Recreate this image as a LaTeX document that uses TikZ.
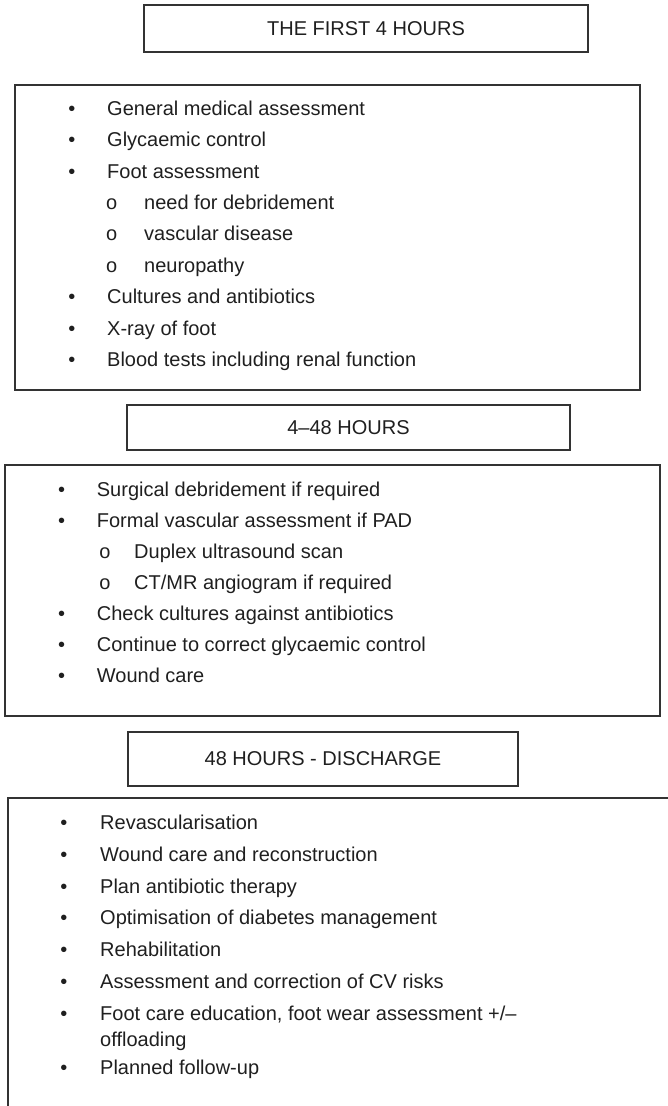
\documentclass[tikz,border=0pt]{standalone}
\usepackage{fontspec}
\setmainfont{Liberation Sans}
\tikzset{
  x=1pt, y=-1pt,
  frame/.style={draw=black!80, line width=1.1pt},
  txt/.style={font=\fontsize{20}{24}\selectfont, text=black!88},
  stage/.style={frame, txt, inner sep=0pt},
  panel/.style={frame, inner sep=0pt},
  line/.style={txt, inner sep=0pt, anchor=base west},
  dot/.style={txt, inner sep=0pt, anchor=base},
}
% \entry{name}{marker x}{text x}{baseline y}{marker}{text}
\newcommand\entry[6]{%
  \node[dot] (#1m) at (#2,#4) {#5};
  \node[line] (#1) at (#3,#4) {#6};}
\begin{document}
\begin{tikzpicture}
\useasboundingbox (0,0) rectangle (668,1106);

% ---- stage 1 ----
\node[stage, minimum width=444pt, minimum height=47pt] (h1) at (366,28.5) {THE FIRST 4 HOURS};
\node[panel, minimum width=625pt, minimum height=305pt] (p1) at (327.5,237.5) {};
\entry{a1}{72}{107}{115.2}{•}{General medical assessment}
\entry{a2}{72}{107}{146.6}{•}{Glycaemic control}
\entry{a3}{72}{107}{178}{•}{Foot assessment}
\entry{a4}{111.7}{144}{209.4}{o}{need for debridement}
\entry{a5}{111.7}{144}{240.8}{o}{vascular disease}
\entry{a6}{111.7}{144}{272.2}{o}{neuropathy}
\entry{a7}{72}{107}{303.6}{•}{Cultures and antibiotics}
\entry{a8}{72}{107}{335}{•}{X-ray of foot}
\entry{a9}{72}{107}{366.4}{•}{Blood tests including renal function}

% ---- stage 2 ----
\node[stage, minimum width=443pt, minimum height=45pt] (h2) at (348.5,427.5) {4–48 HOURS};
\node[panel, minimum width=655pt, minimum height=251pt] (p2) at (332.5,590.5) {};
\entry{b1}{61.7}{96.7}{496.5}{•}{Surgical debridement if required}
\entry{b2}{61.7}{96.7}{527.3}{•}{Formal vascular assessment if PAD}
\entry{b3}{105}{134}{558}{o}{Duplex ultrasound scan}
\entry{b4}{105}{134}{589}{o}{CT/MR angiogram if required}
\entry{b5}{61.7}{96.7}{620.5}{•}{Check cultures against antibiotics}
\entry{b6}{61.7}{96.7}{651.5}{•}{Continue to correct glycaemic control}
\entry{b7}{61.7}{96.7}{682.5}{•}{Wound care}

% ---- stage 3 ----
\node[stage, minimum width=390pt, minimum height=54pt] (h3) at (323,759) {48 HOURS - DISCHARGE};
\coordinate (p3e) at (668,798);
\coordinate (p3nw) at (8,798);
\coordinate (p3s) at (8,1106);
\draw[frame] (p3e) -- (p3nw) -- (p3s);
\entry{c1}{64}{100}{829.5}{•}{Revascularisation}
\entry{c2}{64}{100}{861.5}{•}{Wound care and reconstruction}
\entry{c3}{64}{100}{893}{•}{Plan antibiotic therapy}
\entry{c4}{64}{100}{924.5}{•}{Optimisation of diabetes management}
\entry{c5}{64}{100}{956}{•}{Rehabilitation}
\entry{c6}{64}{100}{988}{•}{Assessment and correction of CV risks}
\entry{c7}{64}{100}{1020}{•}{Foot care education, foot wear assessment +/–}
\node[line] (c7b) at (100,1046) {offloading};
\entry{c8}{64}{100}{1074}{•}{Planned follow-up}
\end{tikzpicture}
\end{document}
